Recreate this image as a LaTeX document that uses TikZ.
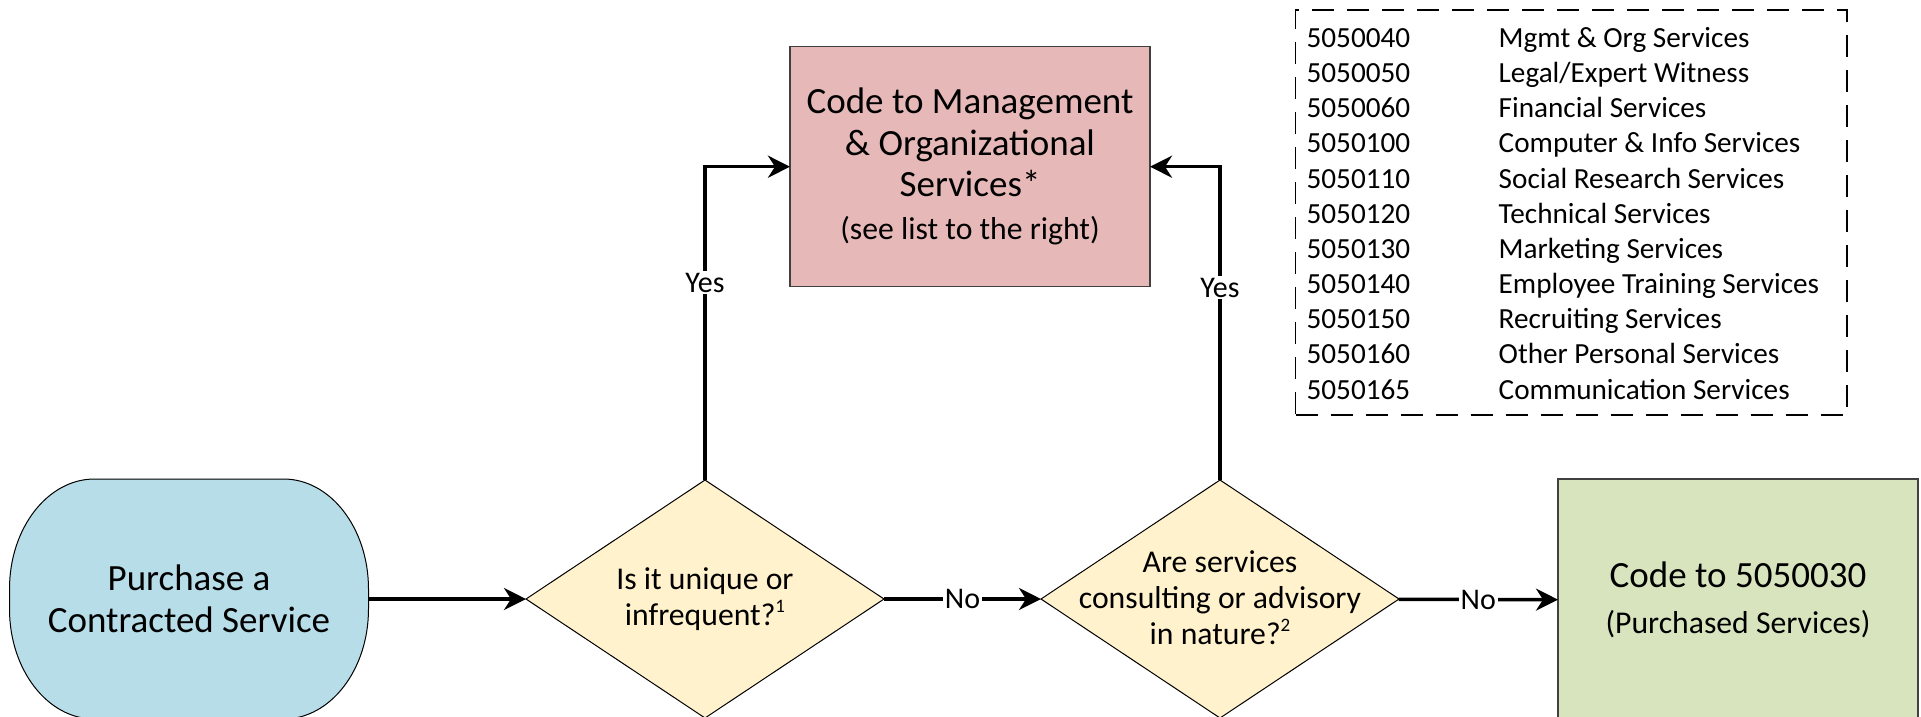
\documentclass[tikz,border=0pt]{standalone}
\usepackage{fontspec}
\setmainfont{Carlito}
\usetikzlibrary{shapes.geometric,arrows.meta}

\definecolor{startblue}{HTML}{B7DDE8}
\definecolor{decisionyellow}{HTML}{FFF2CC}
\definecolor{mgmtred}{HTML}{E6B9B8}
\definecolor{purchgreen}{HTML}{D7E4BD}

\newcommand{\fnmark}[1]{\raisebox{0.42em}{\fontsize{19}{19}\selectfont #1}}

\begin{document}
\begin{tikzpicture}[x=1pt,y=-1pt,
  every node/.style={inner sep=0pt, outer sep=0pt},
  bigtext/.style={font=\fontsize{37}{41.5}\selectfont, align=center},
  decision/.style={diamond, draw=black, line width=1pt, fill=decisionyellow,
    minimum width=358pt, minimum height=238pt, aspect=1.504},
  decisiontext/.style={align=center, font=\fontsize{31.7}{36}\selectfont},
  outcome/.style={rectangle, draw=black!75, line width=1.2pt, align=center,
    font=\fontsize{37}{41.5}\selectfont},
  flow/.style={line width=3.5pt, -{Stealth[length=22pt,width=22pt,inset=7pt]}},
  edgelabel/.style={fill=white, font=\fontsize{30}{36}\selectfont, inner sep=2pt},
  listframe/.style={draw=black, line width=1.8pt, dash pattern=on 22pt off 13pt},
  listtext/.style={anchor=base west, font=\fontsize{29.2}{35}\selectfont},
]
\useasboundingbox (0,0) rectangle (1921,716);
\clip (0,0) rectangle (1921,716);

% start terminator: rounded box with elliptical corners
\path[draw=black, line width=1pt, fill=startblue]
  (94.5,479) -- (283.5,479)
  arc[start angle=90, end angle=0, x radius=85pt, y radius=110pt]
  -- ++(0,20)
  arc[start angle=0, end angle=-90, x radius=85pt, y radius=110pt]
  -- (94.5,719)
  arc[start angle=-90, end angle=-180, x radius=85pt, y radius=110pt]
  -- ++(0,-20)
  arc[start angle=180, end angle=90, x radius=85pt, y radius=110pt]
  -- cycle;
\node[bigtext, minimum width=359pt, minimum height=240pt] (start) at (189,599)
  {Purchase a\\Contracted Service};

% decisions
\node[decision] (d1) at (705,599) {};
\node[decisiontext] (d1t) at (705,599) {Is it unique or\\infrequent?\fnmark{1}};
\node[decision] (d2) at (1220,599) {};
\node[decisiontext] (d2t) at (1220,598) {Are services\\consulting or advisory\\in nature?\fnmark{2}};

% outcomes
\node[outcome, fill=mgmtred, minimum width=360pt, minimum height=240pt] (mgmt) at (970,166.7)
  {Code to Management\\\& Organizational\\Services*\\[1.5pt]{\fontsize{31.7}{38}\selectfont(see list to the right)}};
\node[outcome, fill=purchgreen, minimum width=360pt, minimum height=242pt] (purch) at (1738,600)
  {Code to 5050030\\[4pt]{\fontsize{31.7}{38}\selectfont(Purchased Services)}};

% connectors
\draw[flow] (start) -- (d1);
\draw[flow] (d1) -- node[edgelabel] (no1) {No} (d2);
\draw[flow] (d2) -- node[edgelabel] (no2) {No} (purch);
\draw[flow] (d1.north) |- node[edgelabel, pos=0.315] (yes1) {Yes} (mgmt.west);
\draw[flow] (d2.north) |- node[edgelabel, pos=0.307] (yes2) {Yes} (mgmt.east);

% account code list
\node[listframe, minimum width=551.5pt, minimum height=405pt] (codelist) at (1571.25,212.5) {};
\foreach \c/\d [count=\i from 0] in {
  5050040/{Mgmt \& Org Services},
  5050050/{Legal/Expert Witness},
  5050060/{Financial Services},
  5050100/{Computer \& Info Services},
  5050110/{Social Research Services},
  5050120/{Technical Services},
  5050130/{Marketing Services},
  5050140/{Employee Training Services},
  5050150/{Recruiting Services},
  5050160/{Other Personal Services},
  5050165/{Communication Services}} {
  \node[listtext] (code\i) at (1306.6,47.5+35.15*\i) {\c};
  \node[listtext] (desc\i) at (1498.7,47.5+35.15*\i) {\d};
}
\end{tikzpicture}
\end{document}
